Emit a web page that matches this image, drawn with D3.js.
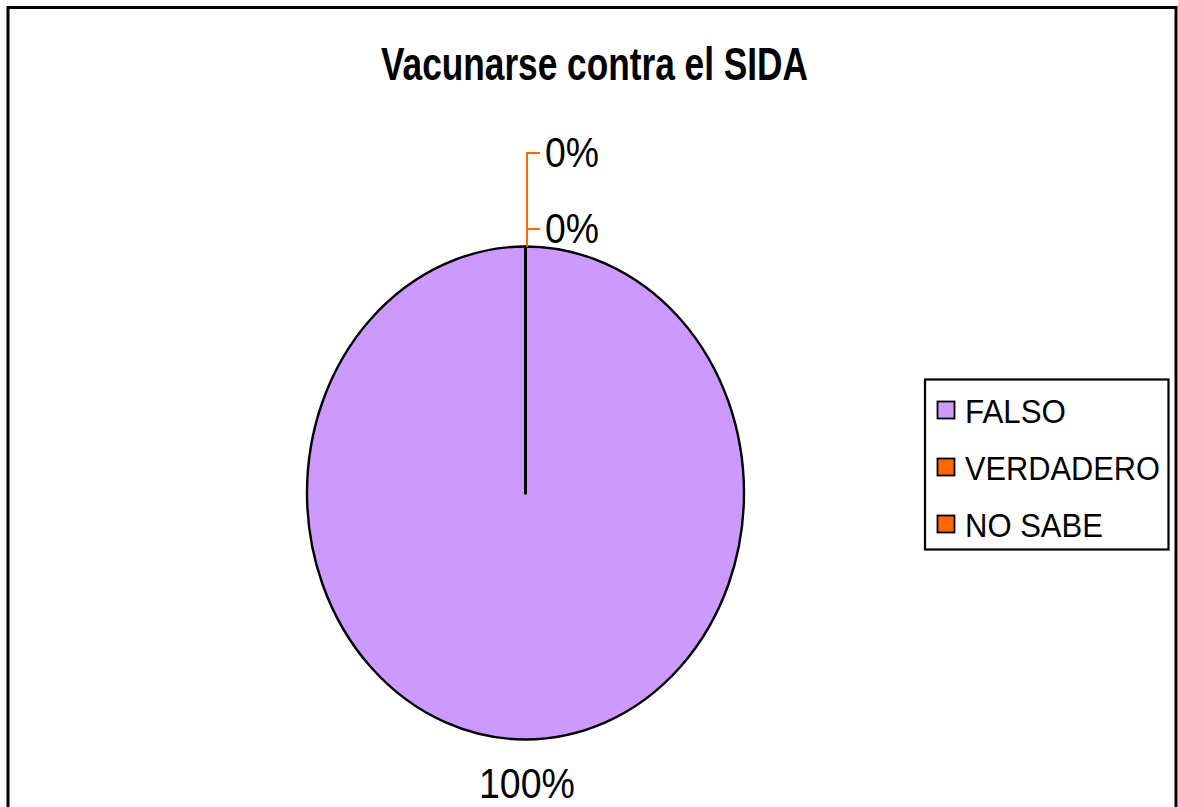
<!DOCTYPE html>
<html>
<head>
<meta charset="utf-8">
<script src="https://cdn.jsdelivr.net/npm/d3@7"></script>
<style>
  html, body { margin: 0; padding: 0; background: #ffffff; }
  svg { display: block; }
  text { font-family: "Liberation Sans", Arial, sans-serif; fill: #000; }
</style>
</head>
<body>
<svg id="chart" width="1178" height="807"></svg>
<script>
const categories = ["FALSO", "VERDADERO", "NO SABE"];
const values = [100, 0, 0];
const percentLabels = ["100%", "0%", "0%"];
const colors = ["#CC99FF", "#FF6600", "#FF6600"];
const title = "Vacunarse contra el SIDA";

const svg = d3.select("#chart");

// helper: text placed at (x, baseline y), horizontally squeezed to a target width
function fitText(parent, x, y, str, size, weight, targetW) {
  const gg = parent.append("g");
  const t = gg.append("text").attr("x", 0).attr("y", 0)
    .attr("font-size", size).attr("font-weight", weight).text(str);
  const natural = t.node().getComputedTextLength();
  const k = natural > 0 ? targetW / natural : 1;
  gg.attr("transform", `translate(${x},${y}) scale(${k},1)`);
  return gg;
}

// outer frame
svg.append("rect")
  .attr("x", 8).attr("y", 7.5)
  .attr("width", 1168).attr("height", 830)
  .attr("fill", "#fff").attr("stroke", "#000").attr("stroke-width", 3);

// title
fitText(svg, 381, 79.5, title, 46, "bold", 427);

// pie (elliptical)
const cx = 525.5, cy = 493, rx = 218.5, ry = 246.5;
const data = categories.map((c, i) => ({ cat: c, value: values[i], label: percentLabels[i], color: colors[i] }));
const pie = d3.pie().value(d => d.value).sort(null);
const arcs = pie(data);
const arc = d3.arc().innerRadius(0).outerRadius(ry);

const g = svg.append("g").attr("transform", `translate(${cx},${cy}) scale(${rx / ry},1)`);
g.selectAll("path.slice")
  .data(arcs)
  .join("path")
  .attr("class", "slice")
  .attr("d", arc)
  .attr("fill", d => d.data.color)
  .attr("stroke", "#000")
  .attr("stroke-width", d => d.endAngle - d.startAngle > 0.001 ? 2.4 : 3)
  .attr("vector-effect", "non-scaling-stroke")
  .attr("stroke-linejoin", "round");

// labels
const sx = rx / ry;
function outerPoint(a) {
  return [cx + Math.sin(a) * ry * sx, cy - Math.cos(a) * ry];
}
// zero slices: leader lines stacked upward
const zeroLabelY = [229, 153];
const zeroTextBase = [243, 167];
let zi = 0;
arcs.forEach(d => {
  if (d.data.value === 0) {
    const p = outerPoint(d.startAngle);
    const lx = p[0] + 1.5;
    const ly = zeroLabelY[zi];
    svg.append("polyline")
      .attr("points", `${lx},${p[1]} ${lx},${ly} ${lx + 13},${ly}`)
      .attr("fill", "none").attr("stroke", d.data.color).attr("stroke-width", 2);
    fitText(svg, 545, zeroTextBase[zi], d.data.label, 42, "normal", 54);
    zi++;
  } else {
    fitText(svg, 479, 797.5, d.data.label, 42, "normal", 96);
  }
});

// legend
svg.append("rect")
  .attr("x", 925).attr("y", 379.5)
  .attr("width", 243.5).attr("height", 170)
  .attr("fill", "#fff").attr("stroke", "#000").attr("stroke-width", 2.2);

const legendY = d3.scalePoint().domain(categories).range([410.5, 524.5]);
const legendWidths = { "FALSO": 101, "VERDADERO": 195, "NO SABE": 138 };
const lg = svg.append("g");
lg.selectAll("rect.sw")
  .data(data)
  .join("rect")
  .attr("class", "sw")
  .attr("x", 937.5).attr("y", d => legendY(d.cat) - 9)
  .attr("width", 17).attr("height", 17)
  .attr("fill", d => d.color)
  .attr("stroke", "#000").attr("stroke-width", 1.8);
data.forEach(d => {
  fitText(lg, 965, legendY(d.cat) + 12, d.cat, 34, "normal", legendWidths[d.cat]);
});
</script>
</body>
</html>
